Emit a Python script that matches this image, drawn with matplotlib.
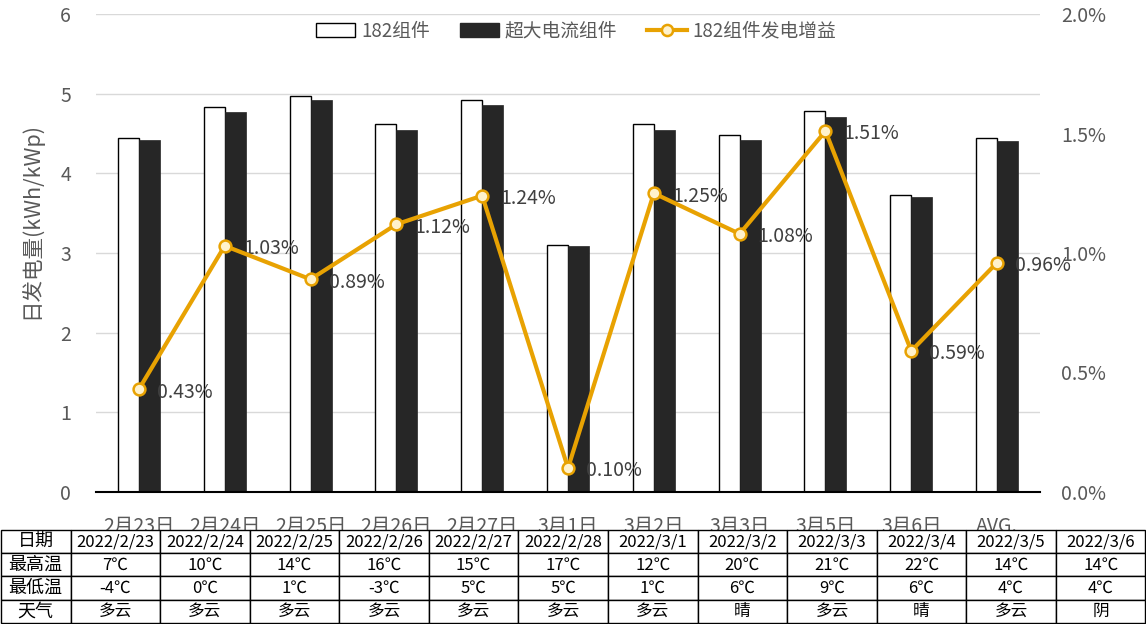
import matplotlib
matplotlib.use("Agg")
import matplotlib.pyplot as plt
import numpy as np
from matplotlib.lines import Line2D
from matplotlib.patches import Patch

plt.rcParams['font.family'] = ['Noto Sans CJK SC', 'DejaVu Sans']

categories = ['2月23日', '2月24日', '2月25日', '2月26日', '2月27日', '3月1日',
              '3月2日', '3月3日', '3月5日', '3月6日', 'AVG.']
vals_182 = [4.44, 4.83, 4.97, 4.62, 4.92, 3.10, 4.62, 4.48, 4.78, 3.73, 4.44]
vals_big = [4.42, 4.77, 4.92, 4.55, 4.86, 3.09, 4.55, 4.42, 4.71, 3.70, 4.40]
gain_pct = [0.43, 1.03, 0.89, 1.12, 1.24, 0.10, 1.25, 1.08, 1.51, 0.59, 0.96]

table_rows = ['日期', '最高温', '最低温', '天气']
table_dates = ['2022/2/23', '2022/2/24', '2022/2/25', '2022/2/26', '2022/2/27', '2022/2/28',
               '2022/3/1', '2022/3/2', '2022/3/3', '2022/3/4', '2022/3/5', '2022/3/6']
table_high = ['7℃', '10℃', '14℃', '16℃', '15℃', '17℃', '12℃', '20℃', '21℃', '22℃', '14℃', '14℃']
table_low = ['-4℃', '0℃', '1℃', '-3℃', '5℃', '5℃', '1℃', '6℃', '9℃', '6℃', '4℃', '4℃']
table_weather = ['多云', '多云', '多云', '多云', '多云', '多云', '多云', '晴', '多云', '晴', '多云', '阴']

W, H = 1146, 624
fig = plt.figure(figsize=(W / 100, H / 100), dpi=100)
ax = fig.add_axes([96 / W, (H - 492) / H, (1040 - 96) / W, (492 - 14) / H])

gray = '#595959'
orange = '#E8A202'
x = np.arange(len(categories))
bw = 0.245
ax.bar(x - bw / 2, vals_182, bw, color='white', edgecolor='black', linewidth=1, zorder=2)
ax.bar(x + bw / 2, vals_big, bw, color='#262626', edgecolor='#262626', linewidth=0.5, zorder=2)
ax.set_xlim(-0.5, len(categories) - 0.5)
ax.set_ylim(0, 6)
ax.set_yticks(range(0, 7))
ax.grid(axis='y', color='#D9D9D9', linewidth=1, zorder=0)
ax.set_axisbelow(True)
for s in ['top', 'left', 'right']:
    ax.spines[s].set_visible(False)
ax.spines['bottom'].set_color('black')
ax.spines['bottom'].set_linewidth(1.5)
ax.spines['bottom'].set_zorder(5)
ax.tick_params(axis='y', length=0, labelsize=14, labelcolor=gray, pad=18)
ax.set_xticks(x)
ax.set_xticklabels(categories)
ax.tick_params(axis='x', length=0, labelsize=14, labelcolor=gray, pad=17)
ax.set_ylabel('日发电量(kWh/kWp)', fontsize=15.5, color=gray)
ax.yaxis.set_label_coords(-0.057, 0.569)

ax2 = ax.twinx()
ax2.set_ylim(0, 2.0)
ax2.set_yticks([0, 0.5, 1.0, 1.5, 2.0])
ax2.set_yticklabels(['0.0%', '0.5%', '1.0%', '1.5%', '2.0%'])
for s in ['top', 'left', 'right', 'bottom']:
    ax2.spines[s].set_visible(False)
ax2.tick_params(axis='y', length=0, labelsize=14, labelcolor=gray, pad=15)
ax2.plot(x, gain_pct, color=orange, linewidth=3, marker='o', markersize=8.5,
         markerfacecolor='#FFF2CC', markeredgecolor=orange, markeredgewidth=1.8, zorder=4)
for xi, v in zip(x, gain_pct):
    ax2.annotate(f'{v:.2f}%', (xi, v), xytext=(13, -2), textcoords='offset points',
                 ha='left', va='center', fontsize=14, color='#404040')

handles = [Patch(facecolor='white', edgecolor='black', linewidth=1),
           Patch(facecolor='#262626', edgecolor='#262626'),
           Line2D([0], [0], color=orange, linewidth=3, marker='o', markersize=8,
                  markerfacecolor='#FFF2CC', markeredgecolor=orange, markeredgewidth=1.8)]
fig.legend(handles, ['182组件', '超大电流组件', '182组件发电增益'], loc='center',
           bbox_to_anchor=(576 / W, (H - 31) / H), ncol=3, frameon=False,
           fontsize=13.5, labelcolor=gray, handlelength=2.1, handleheight=0.8,
           columnspacing=1.6, handletextpad=0.3)

# table
tab_top = 530
tax = fig.add_axes([0.0005, 0.002, 0.999, (H - tab_top) / H - 0.002])
tax.set_axis_off()
cell_text = [[r] + row for r, row in zip(table_rows,
                                         [table_dates, table_high, table_low, table_weather])]
first_w = 70 / W
other_w = (1 - first_w) / len(table_dates)
tbl = tax.table(cellText=cell_text, cellLoc='center', bbox=[0, 0, 1, 1],
                colWidths=[first_w] + [other_w] * len(table_dates))
tbl.auto_set_font_size(False)
tbl.set_fontsize(12)
for (r, c), cell in tbl.get_celld().items():
    cell.set_edgecolor('black')
    cell.set_linewidth(1)
    cell.set_facecolor('white')
    cell.get_text().set_color('black')
    cell.PAD = 0.02
    if c == 0:
        cell.get_text().set_fontsize(13)

fig.savefig('out.png', dpi=100)
